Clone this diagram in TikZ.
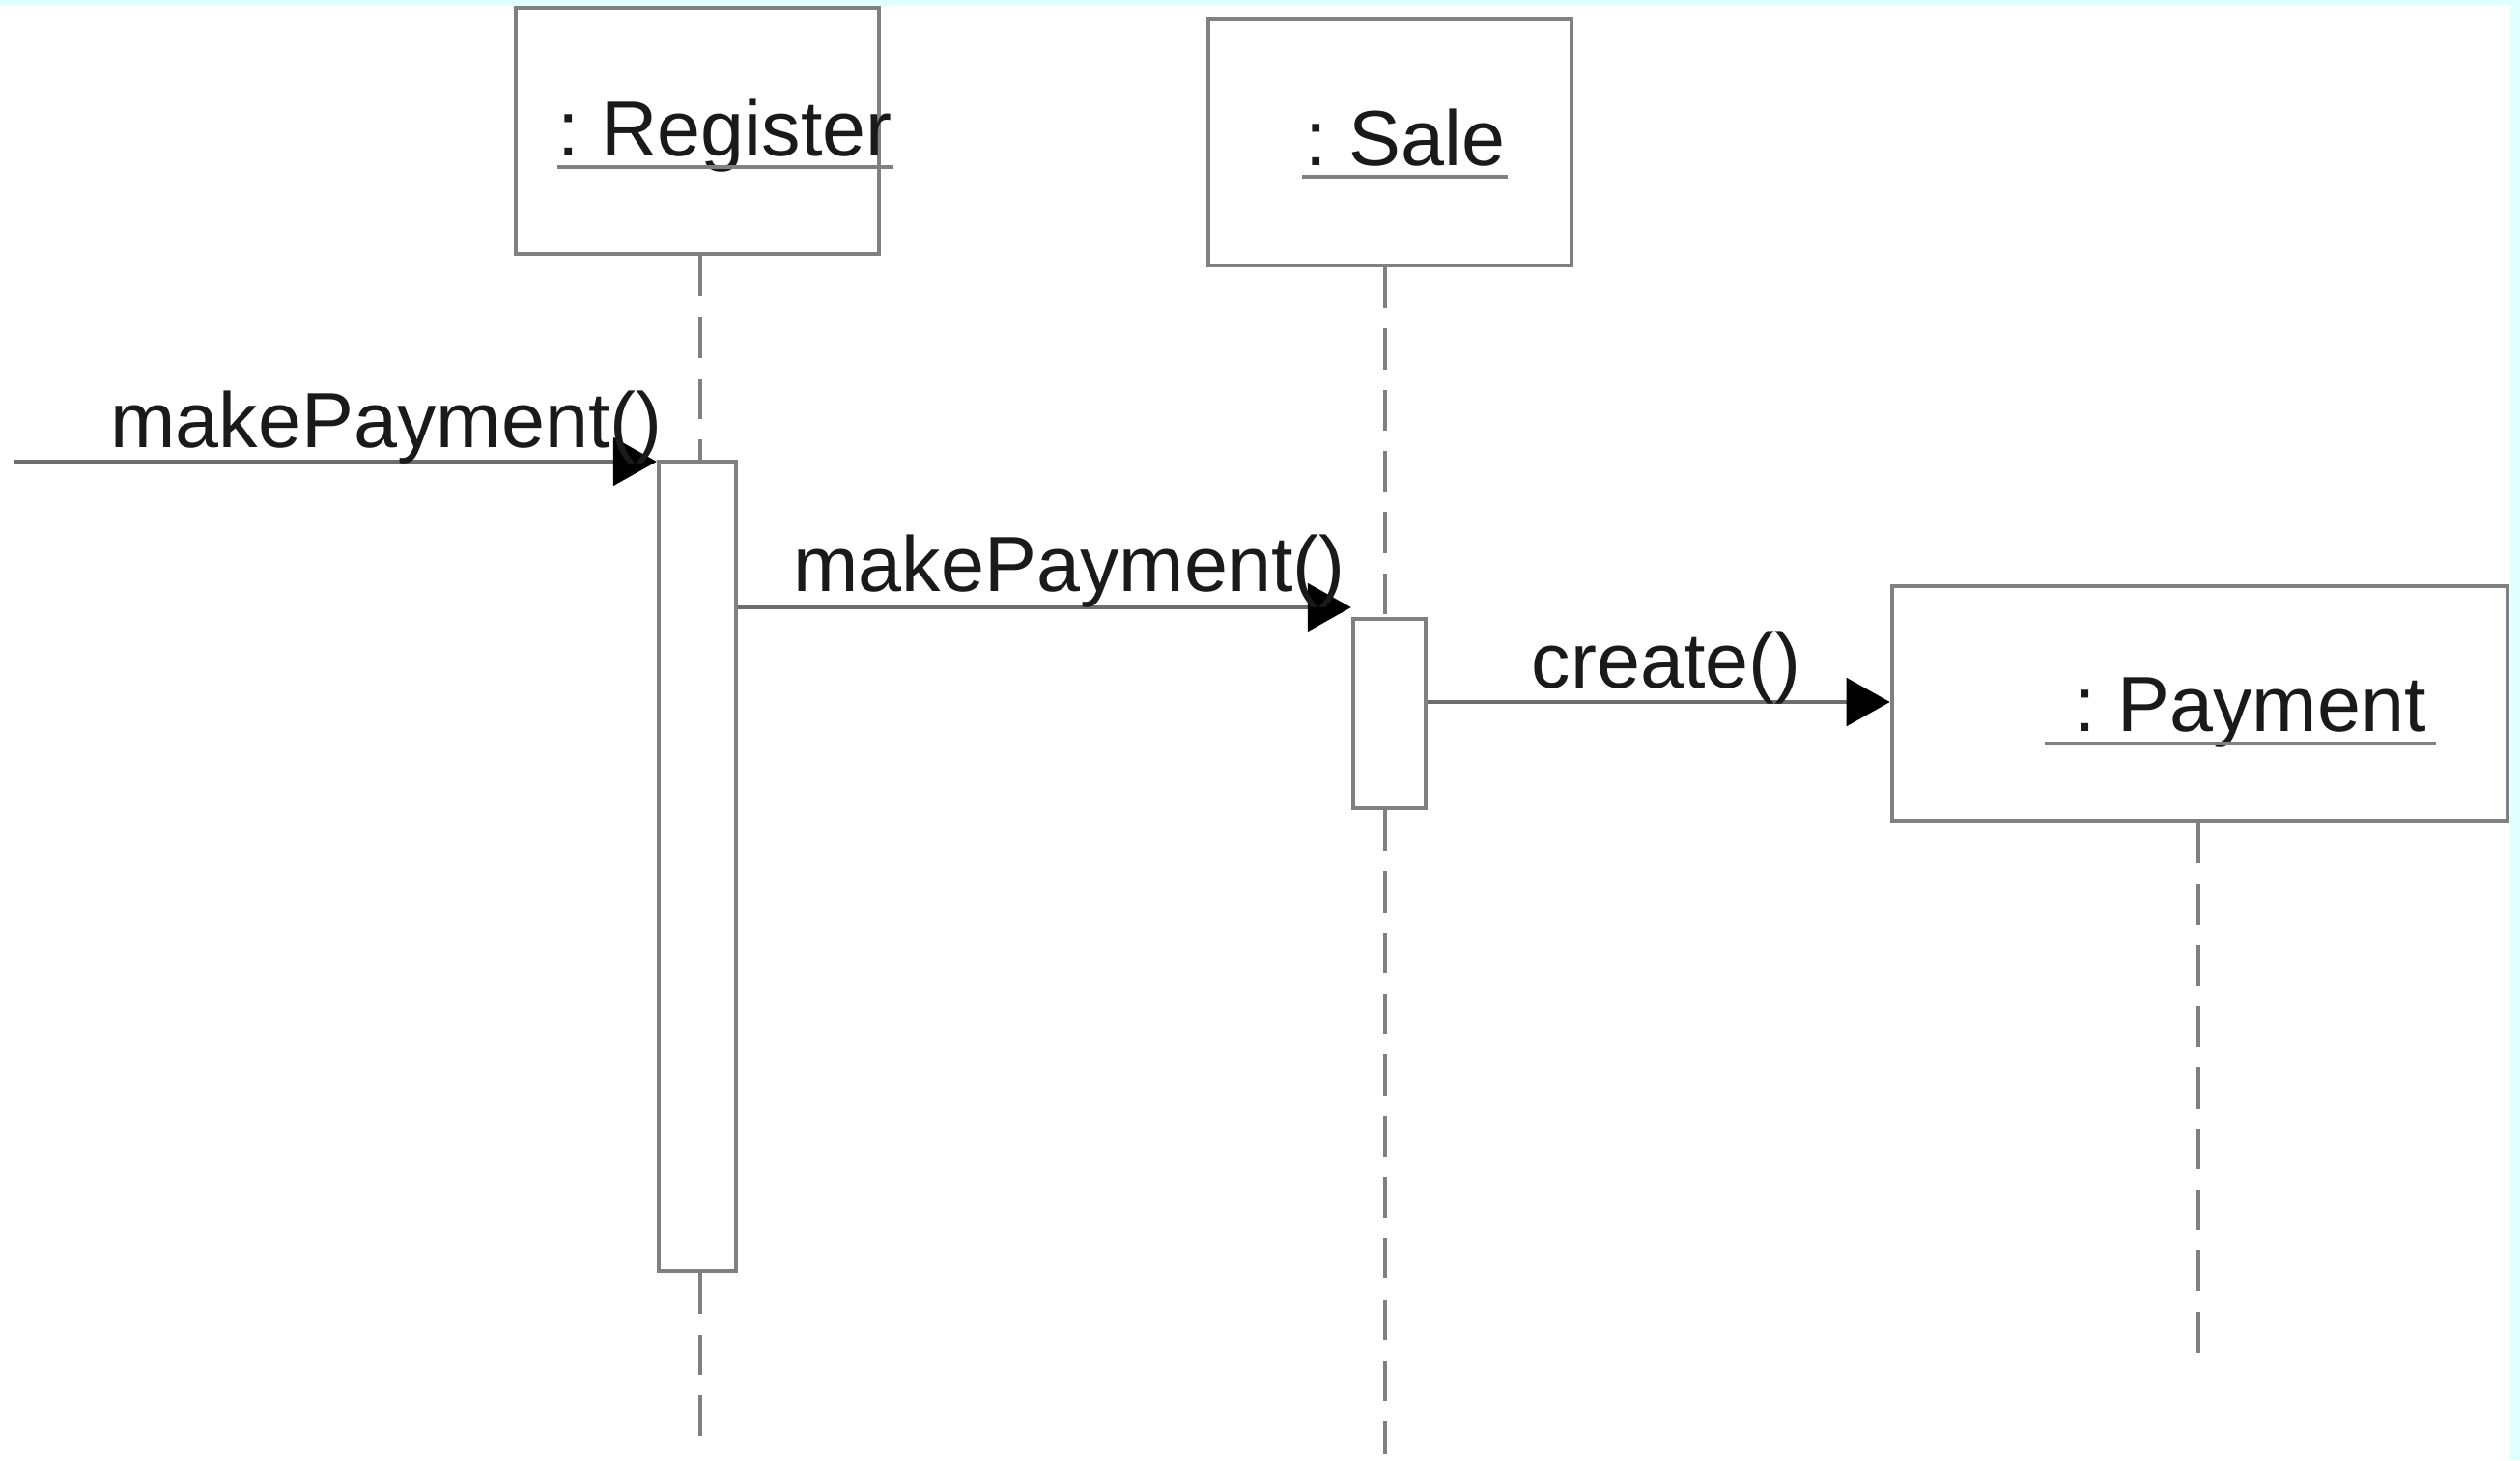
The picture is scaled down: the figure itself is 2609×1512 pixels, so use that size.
\documentclass[tikz,border=0pt]{standalone}
\usepackage{fontspec}
\setmainfont{Liberation Sans}
\usepackage{tikz}
\definecolor{ink}{HTML}{1A1A1A}
\definecolor{frame}{HTML}{808080}
\definecolor{edgebg}{HTML}{E0FFFF}
\usetikzlibrary{
  arrows.meta,
  positioning,
  calc
}
\tikzset{
  every picture/.style={line join=miter},
  every node/.style={font=\fontsize{23}{27}\selectfont, text=ink},
  objbox/.style={
    draw=frame,
    fill=white,
    line width=1.2pt,
    inner sep=0pt
  },
  actbar/.style={objbox},
  lifeline/.style={draw=frame, line width=1.1pt, dash pattern=on 12pt off 6pt},
  msg/.style={-{Triangle[length=12.8pt, width=14pt, color=black]}, line width=1.3pt, draw=frame!85!black},
  uline/.style={draw=frame, line width=1.2pt},
  lbl/.style={inner sep=0pt}
}

\begin{document}
\begin{tikzpicture}[x=0.01cm, y=-0.01cm]
  \useasboundingbox (0,0) rectangle (2609,1512);
  % page edge
  \fill[edgebg] (0,0) rectangle (2609,1512);
  \fill[white] (0,6) rectangle (2599,1512);

  % objects
  \node[objbox, minimum width=3.76cm, minimum height=2.55cm] (reg) at (722,135.5) {};
  \node[objbox, minimum width=3.76cm, minimum height=2.55cm] (sale) at (1439,147.5) {};
  \node[objbox, minimum width=6.37cm, minimum height=2.43cm] (pay) at (2277.5,728.5) {};
  \node[lbl, anchor=base west] (lReg) at (577,161) {:\ Register};
  \node[lbl, anchor=base west] (lSale) at (1351,171) {:\ Sale};
  \node[lbl, anchor=base west] (lPay) at (2147,757) {:\ Payment};
  \draw[uline] ($(lReg.base west)+(0,12)$) -- ($(lReg.base east)+(0,12)$);
  \draw[uline] ($(lSale.base west)+(-3,12)$) -- ($(lSale.base east)+(2,12)$);
  \draw[uline] ($(lPay.base west)+(-30,13)$) -- ($(lPay.base east)+(9,13)$);

  % activations
  \node[actbar, minimum width=0.8cm, minimum height=8.38cm] (actReg) at (722,897) {};
  \node[actbar, minimum width=0.75cm, minimum height=1.96cm] (actSale) at (1438.5,739) {};

  % lifelines
  \coordinate (endReg) at (725,1498);
  \coordinate (endSale) at (1434,1506);
  \coordinate (endPay) at (2276,1414);
  \draw[lifeline] (reg.south -| 725,0) -- (actReg.north -| 725,0);
  \draw[lifeline] (actReg.south -| 725,0) -- (endReg);
  \draw[lifeline] (sale.south -| 1434,0) -- (actSale.north -| 1434,0);
  \draw[lifeline] (actSale.south -| 1434,0) -- (endSale);
  \draw[lifeline] (pay.south -| 2276,0) -- (endPay);

  % messages
  \coordinate (caller) at (15,478);
  \draw[msg] (caller) -- (caller -| actReg.west);
  \draw[msg] (actReg.east |- 0,629) -- (actSale.west |- 0,629);
  \draw[msg] (actSale.east |- 0,727) -- (pay.west |- 0,727);
  \node[lbl, anchor=base] (m1) at (400,463) {makePayment()};
  \node[lbl, anchor=base] (m2) at (1107,612) {makePayment()};
  \node[lbl, anchor=base] (m3) at (1725,712) {create()};
\end{tikzpicture}
\end{document}
